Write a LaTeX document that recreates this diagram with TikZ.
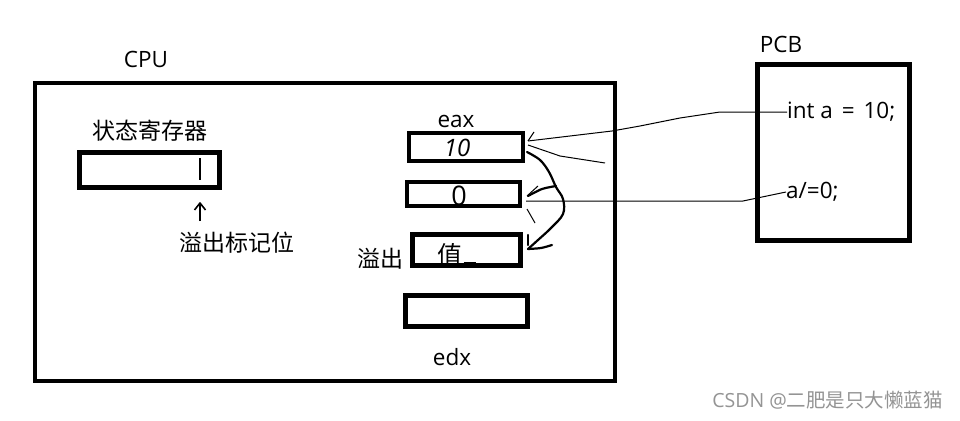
\documentclass[tikz,border=0pt]{standalone}
\usepackage{fontspec}
\setmainfont{Open Sans}
\newfontfamily\cjk{Noto Sans CJK SC}
\begin{document}
\begin{tikzpicture}[x=1pt,y=-1pt,
  reg/.style={draw,line width=4.5pt,inner sep=0pt,outer sep=0pt},
  lbl/.style={inner sep=0pt,font=\fontsize{22.5}{26}\selectfont},
  clbl/.style={inner sep=0pt,font=\cjk\fontsize{23}{26}\selectfont},
  hw/.style={inner sep=0pt,font=\fontsize{24}{26}\selectfont},
  thinln/.style={line width=1pt},
  hand/.style={line width=2.2pt,line cap=round,line join=round}]
\useasboundingbox (0,0) rectangle (960,420);
\fill[white] (0,0) rectangle (960,420);
% frames
\node[reg,minimum width=580pt,minimum height=298pt] (cpu) at (325,232) {};
\node[reg,minimum width=152pt,minimum height=176pt] (pcb) at (833.5,152.5) {};
\node[lbl] (cputxt) at (146,59) {CPU};
\node[lbl] (pcbtxt) at (781,44) {PCB};
% status register
\node[clbl] (sttxt) at (150,131) {状态寄存器};
\node[reg,minimum width=140pt,minimum height=35pt] (st) at (149.5,170) {};
\coordinate (bt) at (200,158);
\coordinate (bb) at (200,180);
\draw[line width=1.8pt] (bt) -- (bb);
\node[clbl] (ovf) at (237,243) {溢出标记位};
\coordinate (at) at (200,203);
\coordinate (ab) at (200,221);
\draw[line width=1.6pt] (ab) -- (at);
\draw[line width=1.6pt,line join=round] (194.5,210) -- (at) -- (205.5,210);
% registers
\node[lbl] (eaxtxt) at (456,121) {eax};
\node[reg,minimum width=114pt,minimum height=28pt] (r1) at (466,147) {};
\node[reg,minimum width=113pt,minimum height=24pt] (r2) at (463.5,194) {};
\node[reg,minimum width=108pt,minimum height=31pt] (r3) at (466.5,250) {};
\node[reg,minimum width=122pt,minimum height=31pt] (r4) at (466.5,311) {};
\node[lbl] (edxtxt) at (452,357) {edx};
\node[clbl] (ovl) at (380,259) {溢出};
\node[hw,font=\itshape\fontsize{24}{26}\selectfont] (v1) at (457,148) {10};
\node[hw,font=\fontsize{27}{28}\selectfont] (v2) at (459,196) {0};
\node[clbl,font=\cjk\fontsize{25}{26}\selectfont] (v3) at (450,255) {值};
\draw[line width=1.6pt] (v3.south east) ++(1,-4) -- ++(12,0);
% PCB code
\node[lbl,anchor=west] (code1) at (787,112) {int a\hspace{3pt} =\hspace{3pt} 10;};
\node[lbl,anchor=west] (code2) at (786,192) {a/=0;};
% thin connectors
\coordinate (p1) at (528,141);
\coordinate (p2) at (528,145);
\coordinate (stray) at (605,163);
\coordinate (p3) at (526,201);
\draw[thinln,line join=round] (code1.west) -- (720,112) -- (680,118) -- (640,126) -- (612,131) -- (p1);
\draw[thinln] (p1) -- (534,132);
\draw[thinln] (p2) -- (560,156) -- (stray);
\draw[thinln,line join=round] (code2.west) -- (743,201) -- (p3);
% hand-drawn overflow curve
\coordinate (h0) at (527,152);
\coordinate (h1) at (528,249);
\draw[hand] plot[smooth,tension=0.6] coordinates {(h0) (540,160) (549,172) (556,187) (563,199) (563,214) (551,228) (538,240) (h1)};
\draw[hand] (528,235) -- (528,245);
\draw[hand] plot[smooth] coordinates {(h1) (541,248) (552,245)};
\draw[hand] plot[smooth] coordinates {(556,186) (542,189) (528,196)};
\draw[thinln] (527,196) -- (538,186);
\draw[thinln] (527,209) -- (535,223);
% watermark
\node[inner sep=0pt,text=black!42,anchor=east,font=\fontsize{19.5}{22}\selectfont] (wm) at (943,400) {CSDN @{\cjk 二肥是只大懒蓝猫}};
\end{tikzpicture}
\end{document}
